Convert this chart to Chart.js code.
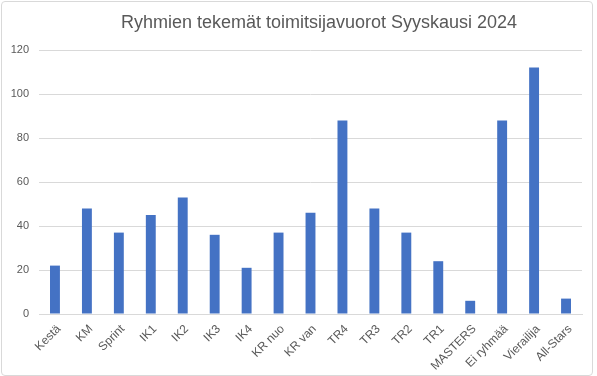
<!DOCTYPE html>
<html>
<head>
<meta charset="utf-8">
<script src="https://cdn.jsdelivr.net/npm/chart.js@4/dist/chart.umd.min.js"></script>
<style>
  html, body { margin: 0; padding: 0; background: #ffffff; }
  #wrap { position: relative; width: 597px; height: 376px; }
  #frame { position: absolute; left: 1px; top: 1px; width: 592px; height: 375px; box-sizing: border-box;
           border: 1px solid #d9d9d9; border-radius: 4px; pointer-events: none; }
</style>
</head>
<body>
<div id="wrap">
  <canvas id="c" width="597" height="376"></canvas>
  <div id="frame"></div>
</div>
<script>
const titleText = "Ryhmien tekemät toimitsijavuorot Syyskausi 2024";
const categories = ["Kestä", "KM", "Sprint", "IK1", "IK2", "IK3", "IK4", "KR nuo", "KR van", "TR4", "TR3", "TR2", "TR1", "MASTERS", "Ei ryhmää", "Vierailija", "All-Stars"];
const values = [22, 48, 37, 45, 53, 36, 21, 37, 46, 88, 48, 37, 24, 6, 88, 112, 7];
const yTicks = [0, 20, 40, 60, 80, 100, 120];

const textColor = "#595959";
const gridColor = "#d9d9d9";
const barColor = "#4472c4";

const titleShift = {
  id: "titleShift",
  afterLayout(chart) {
    const t = chart.titleBlock;
    if (t) { t.left = 41; t.right = 597; }
  }
};

new Chart(document.getElementById("c"), {
  type: "bar",
  data: {
    labels: categories,
    datasets: [{
      data: values,
      backgroundColor: barColor,
      borderWidth: 0,
      categoryPercentage: 1,
      barPercentage: 0.31
    }]
  },
  options: {
    responsive: false,
    animation: false,
    devicePixelRatio: 1,
    layout: { padding: { left: 0, right: 15, top: 0, bottom: 0 } },
    plugins: {
      legend: { display: false },
      tooltip: { enabled: false },
      title: {
        display: true,
        text: titleText,
        color: textColor,
        font: { family: "'Liberation Sans', Arial, sans-serif", size: 18, weight: "normal", lineHeight: 1.2 },
        padding: { top: 12, bottom: 16.4 }
      }
    },
    scales: {
      x: {
        grid: { display: false, drawTicks: false },
        border: { display: true, color: gridColor, width: 1 },
        ticks: {
          color: textColor,
          font: { family: "'Liberation Sans', Arial, sans-serif", size: 12 },
          maxRotation: 45, minRotation: 45, autoSkip: false, padding: 8, labelOffset: 4
        },
        afterFit(scale) { scale.height = 62; }
      },
      y: {
        min: 0, max: 120,
        afterBuildTicks(scale) { scale.ticks = yTicks.map(v => ({ value: v })); },
        grid: { color: gridColor, lineWidth: 1, drawTicks: false },
        border: { display: false },
        ticks: {
          color: textColor,
          font: { family: "'Liberation Sans', Arial, sans-serif", size: 11 },
          padding: 10
        },
        afterFit(scale) { scale.width = 39; }
      }
    }
  },
  plugins: [titleShift]
});
</script>
</body>
</html>
